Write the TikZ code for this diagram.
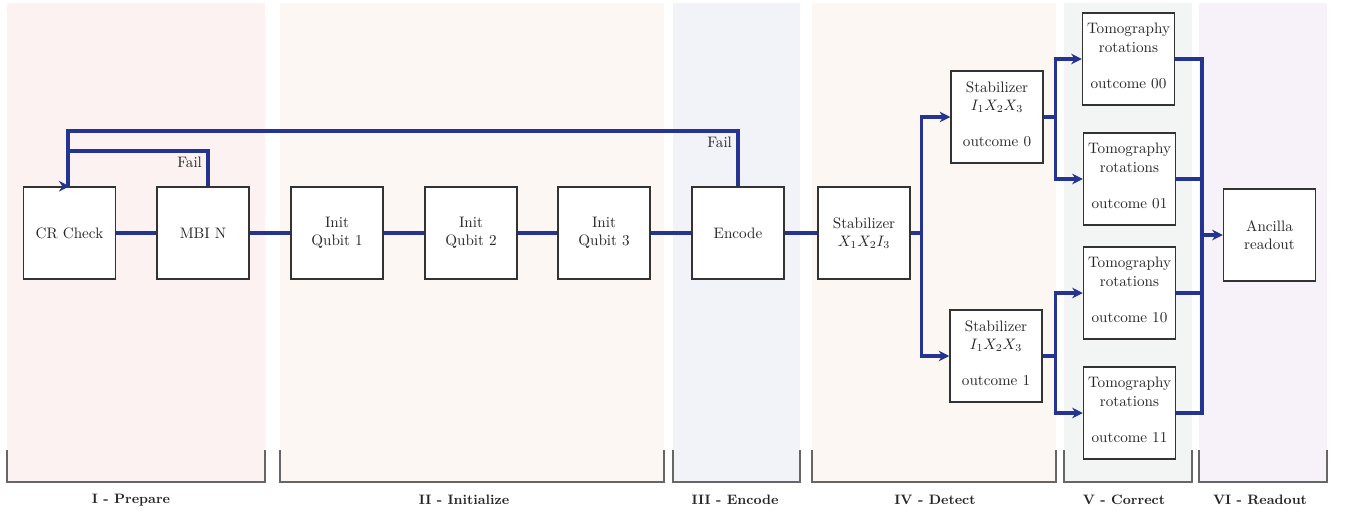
\documentclass[tikz,border=0pt]{standalone}
\usepackage{amsmath}
\usepackage{amssymb}
\usepackage{tikz}
\usepackage{xcolor}
\usetikzlibrary{arrows.meta, positioning, calc}

\definecolor{flowblue}{RGB}{38,52,145}
\definecolor{prepbg}{RGB}{253,242,242}
\definecolor{initbg}{RGB}{253,247,243}
\definecolor{encbg}{RGB}{242,243,249}
\definecolor{detbg}{RGB}{253,247,243}
\definecolor{corrbg}{RGB}{242,245,244}
\definecolor{readbg}{RGB}{247,242,249}

\begin{document}
\begin{tikzpicture}[x=0.66pt, y=-0.66pt,
  block/.style={draw=black!80, fill=white, line width=1pt, minimum width=60.7pt, minimum height=60.7pt, align=center, inner sep=1pt, text=black!85},
  flow/.style={draw=flowblue, line width=2pt},
  flowarrow/.style={flow, -{Stealth[length=7pt, width=7pt]}},
  bracket/.style={draw=black!60, line width=0.8pt},
  phase/.style={font=\small\bfseries, text=black!85}
]
\useasboundingbox (0,0) rectangle (1345,513);

% Phase backgrounds
\fill[prepbg] (7,3) rectangle (265,482);
\fill[initbg] (280,3) rectangle (664,482);
\fill[encbg] (673,3) rectangle (800,482);
\fill[detbg] (812,3) rectangle (1056,482);
\fill[corrbg] (1064,3) rectangle (1192,482);
\fill[readbg] (1199,3) rectangle (1327,482);

% Phase brackets
\draw[bracket] (7,450) |- (265,482) -- (265,450);
\draw[bracket] (280,450) |- (664,482) -- (664,450);
\draw[bracket] (673,450) |- (800,482) -- (800,450);
\draw[bracket] (812,450) |- (1056,482) -- (1056,450);
\draw[bracket] (1064,450) |- (1192,482) -- (1192,450);
\draw[bracket] (1199,450) |- (1327,482) -- (1327,450);

\node[phase] (lblprep) at (131,500) {I - Prepare};
\node[phase] (lblinit) at (464,500) {II - Initialize};
\node[phase] (lblenc) at (735,500) {III - Encode};
\node[phase] (lbldet) at (935,500) {IV - Detect};
\node[phase] (lblcorr) at (1124,500) {V - Correct};
\node[phase] (lblread) at (1260,500) {VI - Readout};

% Main chain
\node[block] (crcheck) at (69.5,233) {CR Check};
\node[block] (mbi) at (203,233) {MBI N};
\node[block] (init1) at (337,233) {Init\\Qubit 1};
\node[block] (init2) at (471,233) {Init\\Qubit 2};
\node[block] (init3) at (604,233) {Init\\Qubit 3};
\node[block] (encode) at (738,233) {Encode};
\node[block] (stabx) at (864,233) {Stabilizer\\$X_1X_2I_3$};

% Detection branches
\node[block] (stab0) at (997,117) {Stabilizer\\$I_1X_2X_3$\\[12pt]outcome 0\\[-8pt]\mbox{}};
\node[block] (stab1) at (996,356) {Stabilizer\\$I_1X_2X_3$\\[12pt]outcome 1\\[-8pt]\mbox{}};

% Correction
\node[block] (tomo00) at (1128.5,59) {Tomography\\rotations\\[12pt]outcome 00\\[-8pt]\mbox{}};
\node[block] (tomo01) at (1129.5,179) {Tomography\\rotations\\[12pt]outcome 01\\[-8pt]\mbox{}};
\node[block] (tomo10) at (1129.5,293) {Tomography\\rotations\\[12pt]outcome 10\\[-8pt]\mbox{}};
\node[block] (tomo11) at (1129.5,413) {Tomography\\rotations\\[12pt]outcome 11\\[-8pt]\mbox{}};

% Readout
\node[block] (ancilla) at (1269.5,235) {Ancilla\\readout};

\coordinate (failmbi) at (68,151);
\coordinate (failenc) at (68,131);
\coordinate (merge) at (1202,235);

% Chain connectors
\draw[flow] (crcheck) -- (mbi);
\draw[flow] (mbi) -- (init1);
\draw[flow] (init1) -- (init2);
\draw[flow] (init2) -- (init3);
\draw[flow] (init3) -- (encode);
\draw[flow] (encode) -- (stabx);

% Fail loops
\draw[flow] ([xshift=3.3pt]mbi.north) |- (failmbi)
  node[pos=0.5, below left, inner sep=3pt, text=black!85] {Fail};
\draw[flowarrow] (encode.north) |- (failenc)
  node[pos=0.5, below left, inner sep=3pt, text=black!85] {Fail}
  -- (crcheck.north -| failenc) -- (crcheck.north);

% Branching
\draw[flowarrow] (stabx.east) -- ++(11,0) |- (stab0.west);
\draw[flowarrow] (stabx.east) -- ++(11,0) |- (stab1.west);
\draw[flowarrow] (stab0.east) -- ++(12,0) |- (tomo00.west);
\draw[flowarrow] (stab0.east) -- ++(12,0) |- (tomo01.west);
\draw[flowarrow] (stab1.east) -- ++(13,0) |- (tomo10.west);
\draw[flowarrow] (stab1.east) -- ++(13,0) |- (tomo11.west);

% Merge into readout
\draw[flow] (tomo00.east) -- (tomo00.east -| merge) -- (tomo11.east -| merge) -- (tomo11.east);
\draw[flow] (tomo01.east) -- (tomo01.east -| merge);
\draw[flow] (tomo10.east) -- (tomo10.east -| merge);
\draw[flowarrow] (merge) -- (ancilla.west);
\end{tikzpicture}
\end{document}
